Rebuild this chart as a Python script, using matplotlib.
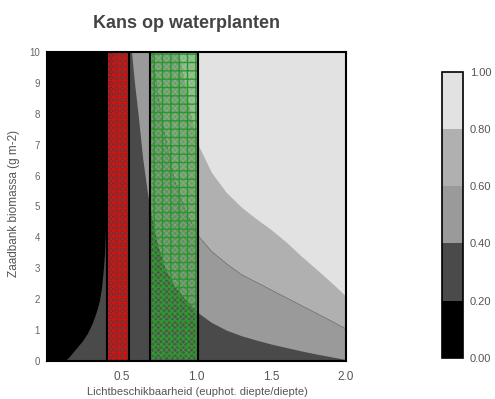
import matplotlib
matplotlib.use("Agg")
import matplotlib.pyplot as plt
import matplotlib.colors as mcolors
from matplotlib.patches import Rectangle

plt.rcParams['font.family'] = ['Liberation Sans', 'DejaVu Sans']

# ── class boundaries of the probability field: light availability (x) per seed-bank level (s) ──
S_P02 = [0, 0.15, 0.3, 0.5, 0.65, 0.9, 1.2, 1.6, 1.95, 2.4, 3.0, 3.5, 4.1, 5.0, 6.0, 8.0, 10]
X_P02 = [0.12, 0.15, 0.175, 0.21, 0.236, 0.27, 0.30, 0.33, 0.35, 0.365, 0.377, 0.385,
         0.39, 0.397, 0.405, 0.42, 0.44]

S_P04 = [0, 0.05, 0.14, 0.23, 0.33, 0.44, 0.55, 0.68, 0.82, 1.0, 1.25, 1.53, 1.9,
         2.45, 3.0, 3.75, 4.65, 5.5, 6.55, 7.95, 9.0, 10]
X_P04 = [2.1, 2.0, 1.9, 1.8, 1.7, 1.6, 1.5, 1.4, 1.3, 1.2, 1.1, 1.02, 0.94,
         0.85, 0.79, 0.74, 0.70, 0.67, 0.64, 0.61, 0.585, 0.565]

S_P06 = [0, 0.5, 1.04, 1.3, 1.55, 1.8, 2.05, 2.3, 2.55, 2.8, 3.15, 3.55, 4.0, 4.8,
         5.8, 7.0, 8.0, 9.0, 10]
X_P06 = [2.7, 2.3, 2.0, 1.9, 1.8, 1.7, 1.6, 1.5, 1.4, 1.3, 1.2, 1.1, 1.02, 0.93,
         0.855, 0.80, 0.76, 0.73, 0.70]

S_P08 = [0, 1.0, 2.1, 2.55, 2.98, 3.4, 3.85, 4.25, 4.6, 4.98, 5.45, 6.1, 7.0, 8.0, 9.0, 10]
X_P08 = [2.7, 2.3, 2.0, 1.9, 1.8, 1.7, 1.6, 1.5, 1.4, 1.3, 1.2, 1.1, 1.01, 0.96, 0.92, 0.88]

# probability classes and their greys
LEVELS = [0.0, 0.2, 0.4, 0.6, 0.8, 1.0]
GREYS = ['#000000', '#4a4a4a', '#9a9a9a', '#b0b0b0', '#e2e2e2']

# highlighted light ranges
RED_BAND = (0.40, 0.55)
GREEN_BAND = (0.69, 1.01)

XTICKS = [0.5, 1.0, 1.5, 2.0]
YTICKS = list(range(0, 11))
CBAR_TICKS = [0.0, 0.2, 0.4, 0.6, 0.8, 1.0]

TXT = '#555555'

fig = plt.figure(figsize=(4.95, 3.99), dpi=100)
ax = fig.add_axes([0.095, 0.095, 0.604, 0.775])

# paint the classes from the lightest up, each layer covering everything left of its boundary
ax.set_facecolor(GREYS[4])
ax.fill_betweenx(S_P08, 0, X_P08, color=GREYS[3], lw=0)
ax.fill_betweenx(S_P06, 0, X_P06, color=GREYS[2], lw=0)
ax.plot(X_P06, S_P06, color='#6a6a6a', lw=0.5)
ax.fill_betweenx(S_P04, 0, X_P04, color=GREYS[1], lw=0)
ax.fill_betweenx(S_P02, 0, X_P02, color=GREYS[0], lw=0)


def band(x0, x1, fill, alpha, dots, grid, grid_hatch):
    w = x1 - x0
    ax.add_patch(Rectangle((x0, 0), w, 10, facecolor=fill, alpha=alpha,
                           edgecolor='none', lw=0, zorder=3))
    # fine screen texture
    plt.rcParams['hatch.linewidth'] = 0.6
    ax.add_patch(Rectangle((x0, 0), w, 10, facecolor='none', edgecolor=dots,
                           hatch='xxxxxx', lw=0, zorder=4))
    # coarse grid
    plt.rcParams['hatch.linewidth'] = 1.0
    ax.add_patch(Rectangle((x0, 0), w, 10, facecolor='none', edgecolor=grid,
                           hatch=grid_hatch, lw=0, zorder=5))
    ax.add_patch(Rectangle((x0, 0), w, 10, facecolor='none',
                           edgecolor='black', lw=1.5, zorder=6))


band(*RED_BAND, '#8a1c1c', 0.9, (0.55, 0.42, 0.42, 0.35), '#d41212', '+++')
band(*GREEN_BAND, '#1e861e', 0.45, (0.8, 0.92, 0.8, 0.25), '#2a962a', '++')

ax.set_xlim(0, 2)
ax.set_ylim(0, 10)
ax.set_xticks(XTICKS)
ax.set_xticklabels([f"{v:.1f}" for v in XTICKS])
ax.set_yticks(YTICKS)
ax.tick_params(axis='x', length=0, pad=7, labelsize=8.5, labelcolor=TXT)
ax.tick_params(axis='y', length=0, pad=5, labelsize=7, labelcolor='#666666')
for sp in ax.spines.values():
    sp.set_linewidth(1.5)
    sp.set_color('black')
    sp.set_zorder(7)

fig.text(0.376, 0.94, "Kans op waterplanten", fontsize=13, fontweight='bold',
         color='#444444', ha='center', va='center')
fig.text(0.398, 0.018, "Lichtbeschikbaarheid (euphot. diepte/diepte)",
         fontsize=8, color=TXT, ha='center', va='center')
fig.text(0.028, 0.49, "Zaadbank biomassa (g m-2)", fontsize=8.5, color=TXT,
         rotation=90, ha='center', va='center')

# legend bar for the probability classes
cax = fig.add_axes([0.893, 0.103, 0.042, 0.717])
cmap = mcolors.ListedColormap(GREYS)
norm = mcolors.BoundaryNorm(LEVELS, cmap.N)
cb = fig.colorbar(plt.cm.ScalarMappable(norm=norm, cmap=cmap), cax=cax,
                  ticks=CBAR_TICKS)
cb.ax.set_yticklabels([f"{v:.2f}" for v in CBAR_TICKS])
cb.ax.tick_params(length=0, pad=5, labelsize=8, labelcolor=TXT)
cb.outline.set_linewidth(1.2)
cb.outline.set_edgecolor('black')

fig.savefig("out.png", dpi=100)
